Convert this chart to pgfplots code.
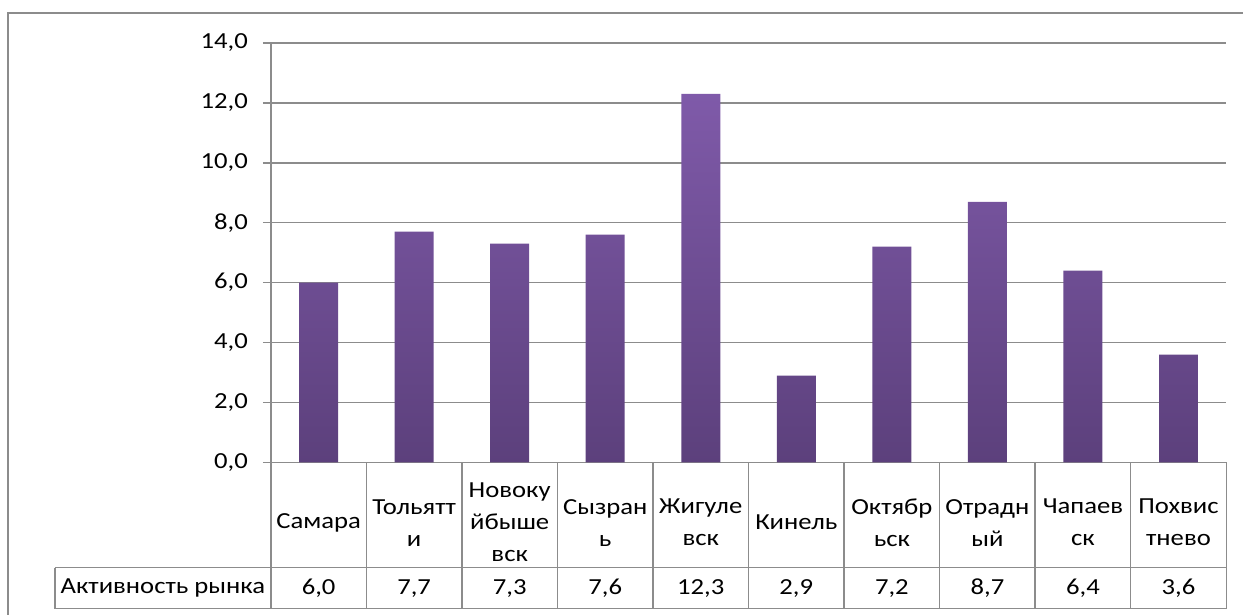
\documentclass[border=0pt]{standalone}
\usepackage{pgfplots}
\pgfplotsset{compat=1.18}
\usepackage{pgfplotstable}
\usepackage{fontspec}
\setmainfont{Carlito}[FakeStretch=1.16]

\definecolor{gridgray}{HTML}{8C8C8C}
\definecolor{bartop}{HTML}{7F5AA9}
\definecolor{barbot}{HTML}{5C407C}

\pgfplotstableread{
x value base
0 6.0 0
1 7.7 0
2 7.3 0
3 7.6 0
4 12.3 0
5 2.9 0
6 7.2 0
7 8.7 0
8 6.4 0
9 3.6 0
}\data

\begin{document}
\begin{tikzpicture}
\begin{scope}[x=0.5pt,y=-0.5pt,shift={(-135.5pt,231.35pt)}]
\useasboundingbox (0,0) rectangle (1244,615);
\end{scope}
\begin{axis}[
  at={(0,0)}, anchor=south west,
  scale only axis, width=478pt, height=209.85pt,
  xmin=-0.5, xmax=9.5, ymin=0, ymax=14,
  clip=false,
  axis line style={draw=none},
  ytick={0,2,...,14},
  ymajorgrids, grid style={draw=gridgray, line width=0.7pt},
  ytick pos=left, tick align=outside, major tick length=4pt,
  ytick style={draw=gridgray, line width=0.7pt},
  xtick={0,...,9}, xtick style={draw=none},
  xticklabels={Самара,{Тольятт\\и},{Новоку\\йбыше\\вск},{Сызран\\ь},{Жигуле\\вск},Кинель,{Октябр\\ьск},{Отрадн\\ый},{Чапаев\\ск},{Похвис\\тнево}},
  xticklabel style={anchor=center, yshift=-26.15pt, align=center, text width=46pt, font=\fontsize{11.5}{16}\selectfont},
  yticklabel={\pgfmathprintnumber[fixed,fixed zerofill,precision=1,use comma,assume math mode=true]{\tick}},
  yticklabel style={font=\fontsize{11.5}{14}\selectfont, xshift=-4pt},
]
\addplot[ybar, bar width=19.5pt, draw=none, top color=bartop, bottom color=barbot]
  table[x=x, y=value]{\data};
\addplot[mark=none, draw=none,
  point meta=\thisrow{value},
  nodes near coords={\pgfmathprintnumber[fixed,fixed zerofill,precision=1,use comma,assume math mode=true]{\pgfplotspointmeta}},
  every node near coord/.append style={anchor=center, yshift=-62.9pt, text=black, font=\fontsize{11.5}{14}\selectfont}]
  table[x=x, y=base]{\data};
\end{axis}
\begin{scope}[x=0.5pt,y=-0.5pt,shift={(-135.5pt,231.35pt)}]
  \draw[gridgray, line width=0.75pt] (8,615) -- (8,13) -- (1244,13);
  \draw[gridgray, line width=0.7pt] (55,568) -- (1227,568);
  \draw[gridgray, line width=0.7pt] (55,609) -- (1227,609);
  \draw[gridgray, line width=0.7pt] (55,568) -- (55,609);
  \draw[gridgray, line width=0.7pt] (271,43) -- (271,462.7);
  \foreach \k in {0,...,10} {
    \draw[gridgray, line width=0.7pt] ({271+95.6*\k},462.7) -- ({271+95.6*\k},609);
  }
  \node[font=\fontsize{11.5}{14}\selectfont] at (163,588.5) {Активность рынка};
\end{scope}
\end{tikzpicture}
\end{document}
